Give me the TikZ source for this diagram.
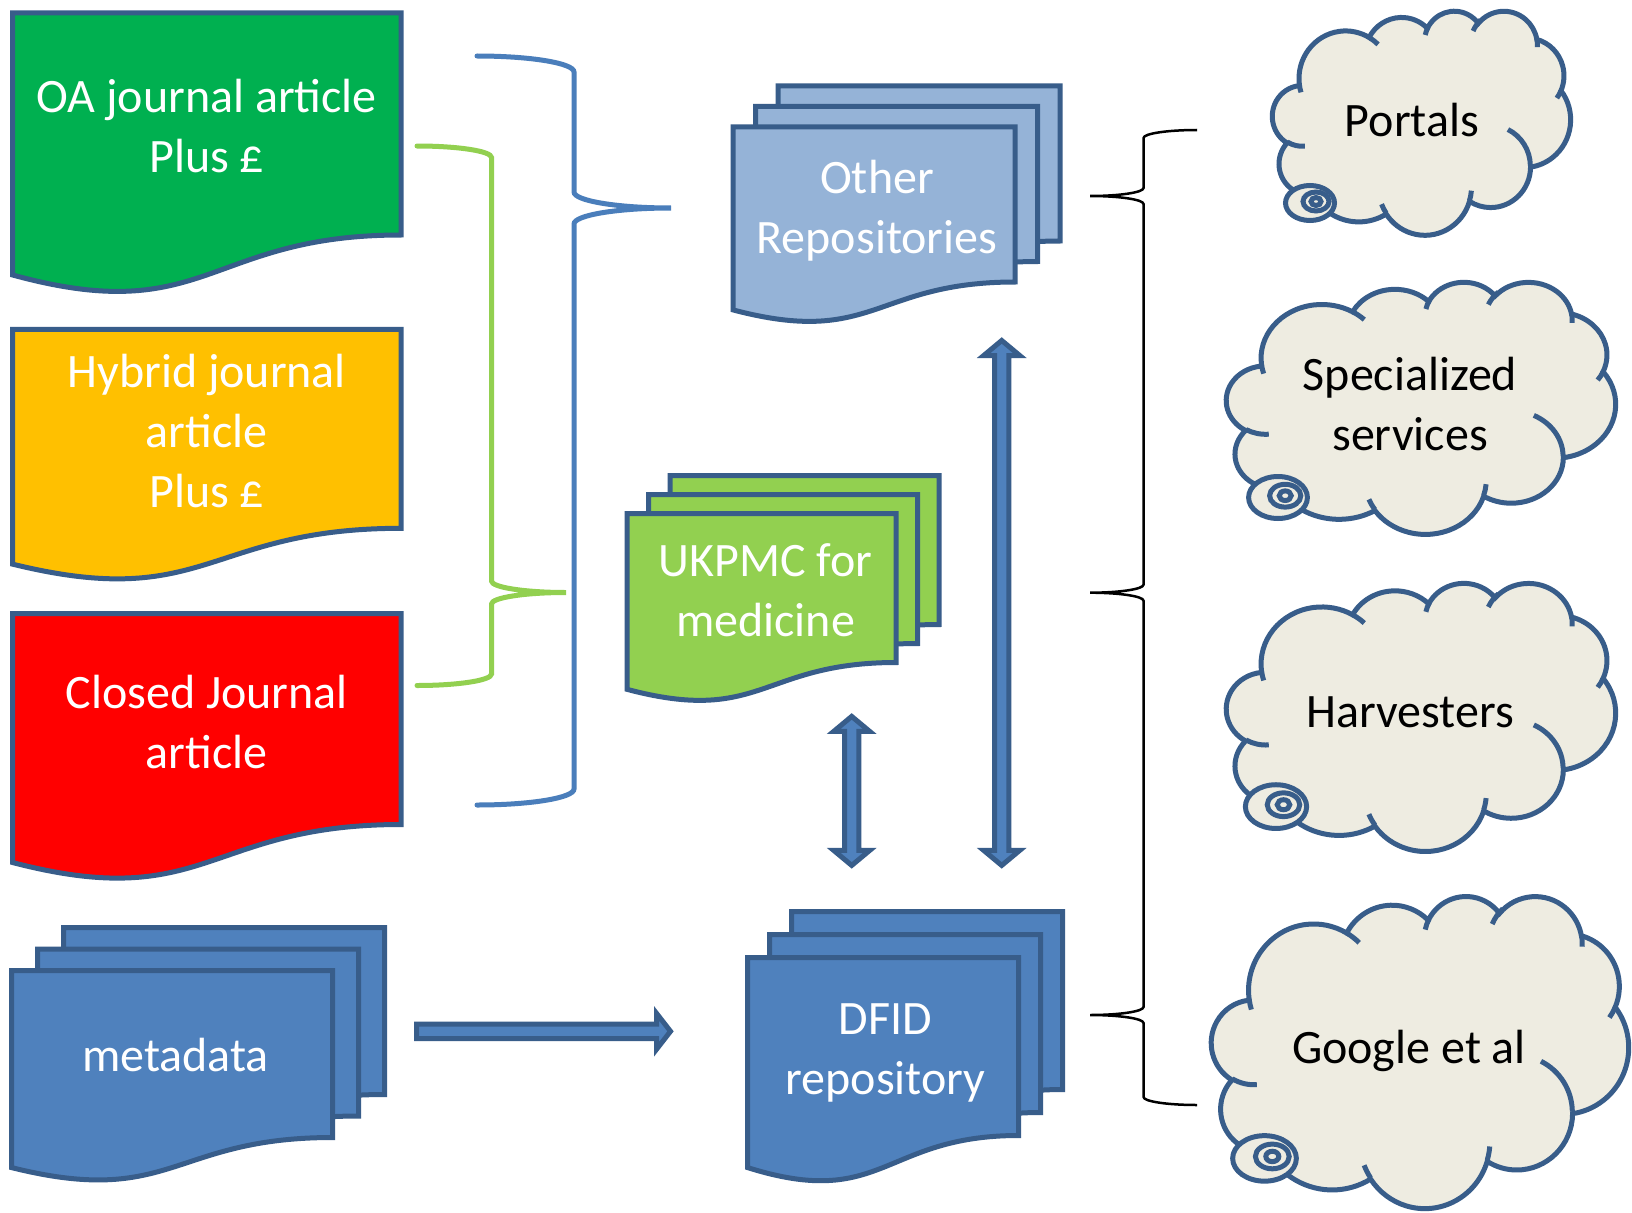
\documentclass[tikz,border=0pt]{standalone}
\usepackage{fontspec}
\setmainfont{Carlito}
\usetikzlibrary{calc, positioning}

\definecolor{outlineblue}{HTML}{385D8A}
\definecolor{oagreen}{HTML}{00B050}
\definecolor{hybridyellow}{HTML}{FFC000}
\definecolor{closedred}{HTML}{FF0000}
\definecolor{repoblue}{HTML}{4F81BD}
\definecolor{otherblue}{HTML}{95B3D7}
\definecolor{ukgreen}{HTML}{92D050}
\definecolor{cloudfill}{HTML}{EEECE1}
\definecolor{braceblue}{HTML}{4A7EBB}

% one page of a document shape: x, y, width, depth of right edge, fill
\newcommand{\docpage}[5]{%
  \draw[docline, fill=#5] (#1,#2) -- ({#1+#3},#2) -- ({#1+#3},{#2+#4})
    .. controls ({#1+0.5*#3},{#2+#4}) and ({#1+0.5*#3},{#2+1.42*#4}) .. (#1,{#2+1.18*#4}) -- cycle;}
% three pages, front page at x, y; offsets dx, dy
\newcommand{\docstack}[7]{%
  \docpage{#1+2*#5}{#2-2*#6}{#3}{#4}{#7}
  \docpage{#1+#5}{#2-#6}{#3}{#4}{#7}
  \docpage{#1}{#2}{#3}{#4}{#7}}
% cloud in the box x, y, w, h (units of 1/100 of 43200)
\newcommand{\cloudshape}[4]{%
  \begin{scope}[shift={(#1,#2)}, xscale=#3/432, yscale=#4/432]
    \draw[cloudline] (39,143.7)
      arc[start angle=172.25, delta angle=128.11, x radius=67.53, y radius=91.90]
      arc[start angle=-152.04, delta angle=106.61, x radius=53.33, y radius=72.67]
      arc[start angle=-153.49, delta angle=116.18, x radius=43.65, y radius=59.45]
      arc[start angle=-139.72, delta angle=129.51, x radius=48.57, y radius=65.95]
      arc[start angle=-74.77, delta angle=97.98, x radius=53.33, y radius=72.73]
      arc[start angle=-37.52, delta angle=119.38, x radius=67.75, y radius=92.20]
      arc[start angle=0.46, delta angle=121.51, x radius=57.85, y radius=78.67]
      arc[start angle=16.84, delta angle=129.40, x radius=67.52, y radius=92.15]
      arc[start angle=58.99, delta angle=91.21, x radius=77.20, y radius=105.43]
      arc[start angle=83.31, delta angle=139.81, x radius=43.60, y radius=59.18]
      arc[start angle=120.35, delta angle=143.76, x radius=43.45, y radius=59.45]
      -- cycle;
    \draw[cloudline, fill=none]
      (46.93,261.77) arc[start angle=85.55, delta angle=34.80, x radius=43.45, y radius=59.45]
      (69.28,348.99) arc[start angle=68.24, delta angle=15.07, x radius=43.60, y radius=59.18]
      (164.78,390.90) arc[start angle=146.24, delta angle=12.23, x radius=67.52, y radius=92.15]
      (288.27,347.51) arc[start angle=4.74, delta angle=12.10, x radius=67.52, y radius=92.15]
      (341.29,229.54) arc[start angle=-64.03, delta angle=63.17, x radius=57.85, y radius=78.67]
      (418.22,154.63) arc[start angle=23.21, delta angle=13.0, x radius=53.33, y radius=72.73]
      (383.24,54.26) arc[start angle=-10.21, delta angle=14.45, x radius=48.57, y radius=65.95]
      (290.78,39.52) arc[start angle=-156.29, delta angle=22.83, x radius=48.57, y radius=65.95]
      (221.41,47.20) arc[start angle=-167.72, delta angle=15.17, x radius=43.65, y radius=59.45]
      (140.00,51.92) arc[start angle=-59.64, delta angle=13.90, x radius=67.53, y radius=91.90]
      (41.27,157.89) arc[start angle=163.19, delta angle=9.06, x radius=67.53, y radius=91.90];
  \end{scope}}
% swirl of the callout: centre x, y, size
\newcommand{\cloudtail}[3]{%
  \draw[cloudline] (#1,#2) ellipse [x radius=24.5*#3, y radius=17.5*#3];
  \draw[cloudline] ({#1+6*#3},{#2-1.5*#3}) ellipse [x radius=13*#3, y radius=9.5*#3];
  \draw[cloudline] ({#1+6*#3},{#2-1.5*#3}) ellipse [x radius=5*#3, y radius=4*#3];}

\begin{document}
\begin{tikzpicture}[x=1pt, y=-1pt, font=\fontsize{48}{60}\selectfont,
    docline/.style={draw=outlineblue, line width=5pt, line join=miter},
    doctext/.style={text=white, align=center, inner sep=0pt},
    cloudline/.style={draw=outlineblue, fill=cloudfill, line width=5pt},
    cloudtext/.style={text=black, align=center, inner sep=0pt},
    blockarrow/.style={draw=outlineblue, fill=repoblue, line width=5pt, line join=miter},
    brace/.style={line width=5pt, line cap=round}]
  \fill[white] (0,0) rectangle (1632,1212);
  \useasboundingbox (0,0) rectangle (1632,1212);

  % journal articles
  \docpage{12.5}{13}{388.5}{222}{oagreen}
  \node[doctext] (oa) at (206.75,125.6) {OA journal article\\Plus £};
  \docpage{12.5}{329.3}{388.5}{199}{hybridyellow}
  \node[doctext] (hybrid) at (206.75,431.4) {Hybrid journal\\article\\Plus £};
  \docpage{12.5}{613.5}{388.5}{211}{closedred}
  \node[doctext] (closed) at (206.75,722.1) {Closed Journal\\article};

  % stacked documents
  \docstack{11.5}{970.5}{321}{167}{26}{21.5}{repoblue}
  \node[doctext] (meta) at (175.5,1055) {metadata};
  \docstack{733}{127}{282}{155}{22.5}{20.5}{otherblue}
  \node[doctext] (otherrepo) at (877,211.2) {Other\\Repositories};
  \docstack{627}{513.5}{269}{149}{21.5}{19}{ukgreen}
  \node[doctext] (ukpmc) at (765.5,590.6) {UKPMC for\\medicine};
  \docstack{747.5}{957.5}{271}{178}{22}{23}{repoblue}
  \node[doctext] (dfid) at (885.5,1052.8) {DFID\\repository};

  % braces
  \draw[brace, braceblue] (477,56) arc[start angle=-90, end angle=0, x radius=97, y radius=16]
    -- (574,192) arc[start angle=180, end angle=90, x radius=97, y radius=16]
    arc[start angle=-90, end angle=-180, x radius=97, y radius=16]
    -- (574,789) arc[start angle=0, end angle=90, x radius=97, y radius=16];
  \draw[brace, ukgreen] (417,146) arc[start angle=-90, end angle=0, x radius=74.5, y radius=11.5]
    -- (491.5,581) arc[start angle=180, end angle=90, x radius=74.5, y radius=11.5]
    arc[start angle=-90, end angle=-180, x radius=74.5, y radius=11.5]
    -- (491.5,674) arc[start angle=0, end angle=90, x radius=74.5, y radius=11.5];
  \draw[line width=2.5pt] (1197,130) arc[start angle=-90, end angle=-180, x radius=53.5, y radius=8]
    -- (1143.5,188) arc[start angle=0, end angle=90, x radius=53.5, y radius=8]
    arc[start angle=-90, end angle=0, x radius=53.5, y radius=8]
    -- (1143.5,584.7) arc[start angle=0, end angle=90, x radius=53.5, y radius=8]
    arc[start angle=-90, end angle=0, x radius=53.5, y radius=8]
    -- (1143.5,1007) arc[start angle=0, end angle=90, x radius=53.5, y radius=8]
    arc[start angle=-90, end angle=0, x radius=53.5, y radius=8]
    -- (1143.5,1097) arc[start angle=180, end angle=90, x radius=53.5, y radius=8];

  % block arrows
  \coordinate (meta-out) at (416.5,1031.3);
  \coordinate (dfid-in) at (670.5,1031.3);
  \coordinate (ukpmc-down) at (851.7,716.4);
  \coordinate (dfid-upl) at (851.7,865.4);
  \coordinate (other-down) at (1001.7,340.5);
  \coordinate (dfid-upr) at (1001.7,865.4);
  \draw[blockarrow] let \p1=(meta-out), \p2=(dfid-in) in
    (\x1,\y1+7.2pt) -- (\x2-14pt,\y1+7.2pt) -- (\x2-14pt,\y1+18pt) -- (\x2,\y1)
    -- (\x2-14pt,\y1-18pt) -- (\x2-14pt,\y1-7.2pt) -- (\x1,\y1-7.2pt) -- cycle;
  \foreach \a/\b in {ukpmc-down/dfid-upl, other-down/dfid-upr}
    \draw[blockarrow] let \p1=(\a), \p2=(\b) in
      (\x1,\y1) -- (\x1+18pt,\y1-15pt) -- (\x1+7.2pt,\y1-15pt) -- (\x1+7.2pt,\y2+15pt)
      -- (\x1+18pt,\y2+15pt) -- (\x1,\y2) -- (\x1-18pt,\y2+15pt) -- (\x1-7.2pt,\y2+15pt)
      -- (\x1-7.2pt,\y1-15pt) -- (\x1-18pt,\y1-15pt) -- cycle;

  % clouds
  \cloudshape{1272.5}{10.5}{298}{224}
  \cloudtail{1310}{203}{1}
  \node[cloudtext] (portals) at (1412,120) {Portals};
  \cloudshape{1226.5}{281.5}{389}{252}
  \cloudtail{1278}{497.5}{1.2}
  \node[cloudtext] (special) at (1410,404) {Specialized\\services};
  \cloudshape{1226.5}{582.5}{389}{268}
  \cloudtail{1276}{806.6}{1.25}
  \node[cloudtext] (harvest) at (1410,712) {Harvesters};
  \cloudshape{1211.5}{895.5}{417}{312}
  \cloudtail{1264.5}{1158.4}{1.3}
  \node[cloudtext] (google) at (1409,1051.2) {Google et al};
\end{tikzpicture}
\end{document}
